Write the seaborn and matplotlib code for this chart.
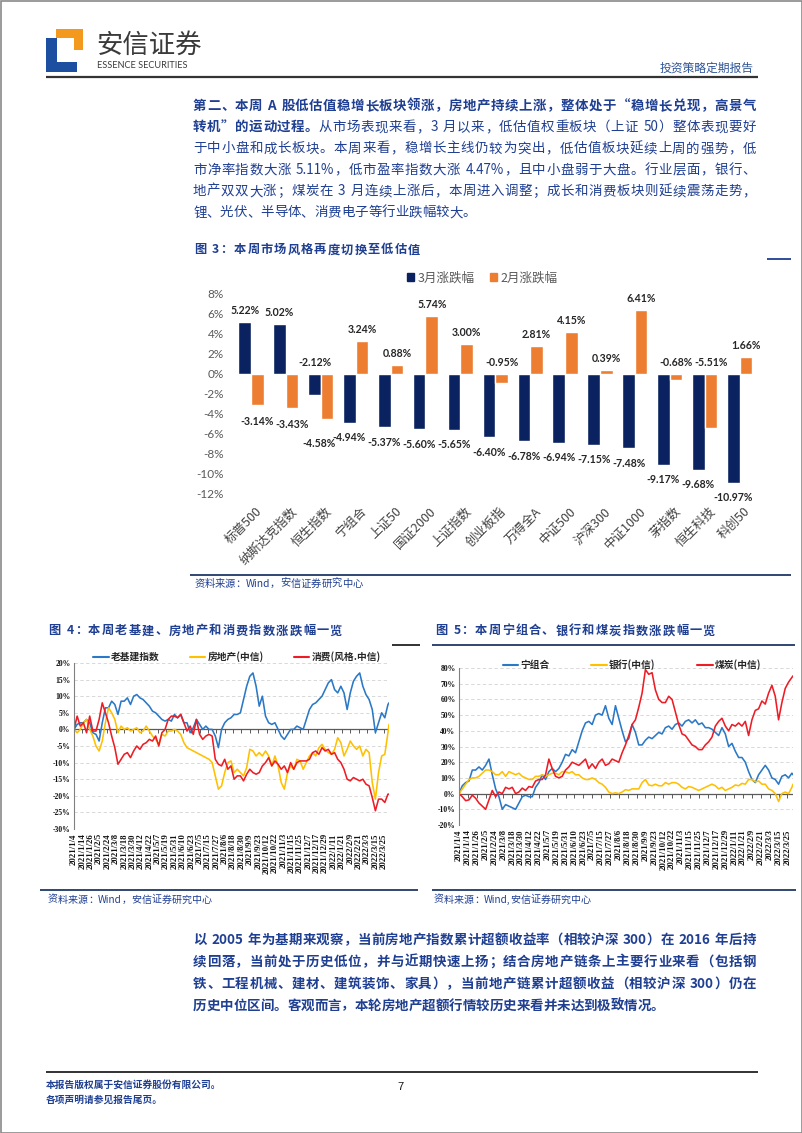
import numpy as np
import pandas as pd
import matplotlib
matplotlib.use('Agg')
import matplotlib.pyplot as plt
import seaborn as sns
from matplotlib.patches import Rectangle, Patch
from matplotlib.lines import Line2D
from matplotlib.font_manager import FontProperties, fontManager
from matplotlib.transforms import ScaledTranslation

# ---------------- data: figure 3 (bar chart) ----------------
bar_categories = ['标普500', '纳斯达克指数', '恒生指数', '宁组合', '上证50', '国证2000', '上证指数',
                  '创业板指', '万得全A', '中证500', '沪深300', '中证1000', '茅指数', '恒生科技', '科创50']
march_change = [5.22, 5.02, -2.12, -4.94, -5.37, -5.60, -5.65, -6.40, -6.78, -6.94, -7.15, -7.48, -9.17, -9.68, -10.97]
feb_change = [-3.14, -3.43, -4.58, 3.24, 0.88, 5.74, 3.00, -0.95, 2.81, 4.15, 0.39, 6.41, -0.68, -5.51, 1.66]
bar_series = ['3月涨跌幅', '2月涨跌幅']
bar_yticks = [8, 6, 4, 2, 0, -2, -4, -6, -8, -10, -12]
labels_above_axis = [('恒生指数', '3月涨跌幅'), ('创业板指', '2月涨跌幅'),
                     ('茅指数', '2月涨跌幅'), ('恒生科技', '2月涨跌幅')]

# ---------------- data: figures 4 & 5 (line charts) ----------------
date_ticks = ['2021/1/4', '2021/1/14', '2021/1/26', '2021/2/5', '2021/2/24', '2021/3/8', '2021/3/18',
              '2021/3/30', '2021/4/12', '2021/4/22', '2021/5/7', '2021/5/19', '2021/5/31', '2021/6/10',
              '2021/6/23', '2021/7/5', '2021/7/15', '2021/7/27', '2021/8/6', '2021/8/18', '2021/8/30',
              '2021/9/9', '2021/9/23', '2021/10/12', '2021/10/22', '2021/11/3', '2021/11/15', '2021/11/25',
              '2021/12/7', '2021/12/17', '2021/12/29', '2022/1/11', '2022/1/21', '2022/2/9', '2022/2/21',
              '2022/3/3', '2022/3/15', '2022/3/25']
tick_step_days = 8
sample_days = list(range(0, 301, 3)) + [301]   # trading-day index of each reading

infra = [0, 1.5, 2, 2, 3, 2, -1, -1.5, -3.5, 2,
         6.5, 6.5, 8.5, 7.5, 4.5, 8.5, 8.5, 9.5, 7.5, 10,
         10.5, 9.5, 9, 8, 7, 5.5, 5, 4, 3, 2.5,
         3, 2.5, 4.5, 3.5, 4.5, 2, 2, -1, 0.5, 3,
         1.5, 0, 1, 0, 0, -2, -5.5, 0, 2, 3,
         3.5, 4.5, 4.5, 5, 9, 13, 16, 17, 13, 7,
         10, 4, 2, 1.5, 2, 0, -2, -3, -1.5, 0,
         0, 1, 0.5, 0, 3, 6, 7.5, 8, 9, 10,
         12, 14, 15, 12, 11, 13, 11, 6, 11, 14.5,
         16, 17, 13, 10.5, 9, 6, -1, 2, 5, 3.5,
         7.5, 8]
realestate = [0, -1, 0, 2, 3, 0, -2, -5, -6.5, -3.5,
              2, 6.5, 5, 3, -1, 1, 0, 0.5, -0.5, 0,
              0.5, -1, -0.5, 1, -0.5, -2, -3, -4.5, -1.5, -2,
              -0.5, -0.5, 0, -0.5, -1.5, -4, -5.5, -6, -6.5, -7,
              -7.5, -8, -8.5, -9, -10, -14, -18, -17, -13, -10,
              -9.5, -13, -12, -13, -14, -11.5, -6, -6.5, -8, -7,
              -8, -6.5, -8, -11, -8, -11, -16, -18, -13, -11,
              -12, -9, -9.5, -12, -10, -8, -7, -8, -5.5, -4.5,
              -6, -7, -7.5, -6, -2.5, -4, -8, -6, -3.5, -5,
              -6, -5, -8, -6, -7, -16, -21, -13, -8, -7.5,
              -1, 1.5]
consumer = [0, 4, 1, 2, -1, 4, -0.5, -0.5, 3, 8,
            5, 2, -2, -5.5, -10.5, -9, -7.5, -7, -8.5, -6.5,
            -5, -6, -4.5, -4, -3, -3.5, -2, -5, -1, 0,
            3, 4, 4, 3.5, 4.5, 2, -0.5, 1, -1.5, 3,
            -1.5, -3, -2, -1.5, -2, -9, -10.5, -11, -9, -12,
            -11, -15, -14, -14, -15.5, -13.5, -12, -13, -13.5, -13,
            -11, -10, -8.5, -11, -9.5, -10.5, -12, -11, -13, -10,
            -12, -10, -9.5, -9.5, -9.5, -9, -7, -6.5, -7.5, -5.5,
            -6.5, -6, -7.5, -7, -9, -10, -12, -15, -15.5, -14.5,
            -15, -15.5, -15, -16.5, -17, -20.5, -24.5, -21, -21, -22,
            -19.5, -19.5]
ning = [0, 5, 7, 8, 15, 15, 17, 15, 18, 22,
        12, 3, -2, -10, -7, -8, -9, -10, -6, -2,
        -1, -2, -2, 4, 7, 12, 9, 14, 16, 14,
        16, 20, 25, 24, 28, 26, 33, 40, 45, 46,
        44, 50, 51, 50, 56, 48, 44, 56, 48, 40,
        33, 35, 44, 39, 31, 31, 34, 36, 35, 37,
        39, 38, 42, 43, 41, 44, 45, 43, 46, 47,
        45, 47, 44, 45, 42, 42, 41, 39, 37, 42,
        38, 30, 32, 27, 23, 23, 20, 14, 9, 7,
        12, 15, 18, 15, 10, 9, 6, 11, 12, 10,
        13, 12]
bank = [0, 3, 6, 9, 10, 10, 11, 13, 15, 15,
        14, 12, 12, 14, 11, 14, 13, 12, 13, 11,
        10, 9, 9, 11, 11, 12, 11, 12, 13, 13,
        12, 14, 14, 13, 14, 12, 12, 10, 9, 9,
        10, 9, 7, 6, 4, 1, 0, 0.5, 0, 1,
        2.5, 2, 3, 3, 3, 7, 9, 5.5, 5, 6,
        5, 5, 7, 6, 7, 7, 6, 4, 3, 4.5,
        4, 3, 2, 3, 4, 5, 6, 5, 3, 4,
        2, 3, 4, 5.5, 5, 6.5, 6, 9, 9, 7.5,
        8, 6, 6, 3, 2, 0, -5, 0, 1, 0,
        4, 6]
coal = [0, -2, -4.5, -4, -1, -3, -6, -8, -10, -4,
        2, -2, 1, 0, 4, 3, 4, 0, 1, 3.5,
        2, 4.5, 4, 8, 9, 9, 12, 22, 16, 11,
        10, 11, 15, 17, 20, 19, 18, 20, 22, 16,
        19, 16, 20, 22, 18, 19, 22, 21, 20, 26,
        31, 37, 44, 47, 55, 64, 79, 76, 77, 66,
        60, 58, 58, 62, 60, 52, 44, 38, 37, 34,
        31, 30, 28, 28, 31, 33, 36, 43, 46, 48,
        43, 40, 44, 43, 45, 43, 46, 37, 47, 53,
        54, 59, 57, 64, 69, 62, 47, 58, 67, 71,
        74, 75]

fig4_names = ['老基建指数', '房地产(中信)', '消费(风格.中信)']
fig5_names = ['宁组合', '银行(中信)', '煤炭(中信)']
fig4_yticks = [20, 15, 10, 5, 0, -5, -10, -15, -20, -25, -30]
fig5_yticks = [80, 70, 60, 50, 40, 30, 20, 10, 0, -10, -20]

# ---------------- text ----------------
para1 = [
    [("第二、本周 A 股低估值稳增长板块领涨，房地产持续上涨，整体处于“稳增长兑现，高景气", 'bold')],
    [("转机”的运动过程。", 'bold'), ("从市场表现来看，3 月以来，低估值权重板块（上证 50）整体表现要好", 'normal')],
    [("于中小盘和成长板块。本周来看，稳增长主线仍较为突出，低估值板块延续上周的强势，低", 'normal')],
    [("市净率指数大涨 5.11%，低市盈率指数大涨 4.47%，且中小盘弱于大盘。行业层面，银行、", 'normal')],
    [("地产双双大涨；煤炭在 3 月连续上涨后，本周进入调整；成长和消费板块则延续震荡走势，", 'normal')],
    [("锂、光伏、半导体、消费电子等行业跌幅较大。", 'normal')],
]
para2 = [
    [("以 2005 年为基期来观察，当前房地产指数累计超额收益率（相较沪深 300）在 2016 年后持", 'bold')],
    [("续回落，当前处于历史低位，并与近期快速上扬；结合房地产链条上主要行业来看（包括钢", 'bold')],
    [("铁、工程机械、建材、建筑装饰、家具），当前地产链累计超额收益（相较沪深 300）仍在", 'bold')],
    [("历史中位区间。客观而言，本轮房地产超额行情较历史来看并未达到极致情况。", 'bold')],
]
title3 = "图 3：本周市场风格再度切换至低估值"
title4 = "图 4：本周老基建、房地产和消费指数涨跌幅一览"
title5 = "图 5：本周宁组合、银行和煤炭指数涨跌幅一览"
source_text = "资料来源：Wind，安信证券研究中心"

# ---------------- style ----------------
sns.set_theme(style='white')
CJK = ['Noto Sans CJK SC', 'DejaVu Sans']
plt.rcParams['font.family'] = CJK
plt.rcParams['axes.unicode_minus'] = False
available = {f.name for f in fontManager.ttflist}
NARROW = ['Liberation Sans Narrow'] if 'Liberation Sans Narrow' in available else ['Lato']
SERIF = ['Liberation Serif', 'DejaVu Serif']

NAVY = '#0A2260'
ORANGE = '#ED7D31'
TXT = '#1F3F92'
L_BLUE = '#2A78C6'
L_YEL = '#FFC000'
L_RED = '#EE1C25'

# manual nudges (pixels) of individual bar labels, as in the reference layout
label_nudge = {('恒生指数', '2月涨跌幅'): (-8, -9),
               ('标普500', '2月涨跌幅'): (0, -2),
               ('纳斯达克指数', '2月涨跌幅'): (0, -2)}

W, H = 802, 1133
fig = plt.figure(figsize=(W / 100, H / 100), dpi=100)
fig.patch.set_facecolor('white')


def fx(x):
    return x / W


def fy(y):
    return 1 - y / H


def add_ax(l, t, r, b):
    ax = fig.add_axes([fx(l), fy(b), (r - l) / W, (b - t) / H])
    ax.set_facecolor('none')
    return ax


page = fig.add_axes([0, 0, 1, 1], zorder=0)
page.set_xlim(0, W)
page.set_ylim(H, 0)
page.axis('off')

renderer = fig.canvas.get_renderer()
LEFT_P = set('，。、；：）”')
RIGHT_P = set('（“')


def split_units(s):
    out, buf = [], ''
    for ch in s:
        if ch == ' ':
            if buf:
                out.append(('a', buf)); buf = ''
            out.append(('s', ' '))
        elif ord(ch) < 128:
            buf += ch
        else:
            if buf:
                out.append(('a', buf)); buf = ''
            out.append(('c', ch))
    if buf:
        out.append(('a', buf))
    return out


def draw_line(segments, x0, y, size, color, x1=None, style='normal'):
    em = size * 100 / 72
    items = []
    for text, weight in segments:
        for kind, u in split_units(text):
            if kind == 'c':
                w = em
            elif kind == 's':
                w = 0.3 * em
            else:
                fp = FontProperties(family=CJK, size=size, weight=weight)
                w = renderer.get_text_width_height_descent(u, fp, ismath=False)[0]
            items.append((kind, u, weight, w))
    total = sum(it[3] for it in items)
    gap = (x1 - x0 - total) / (len(items) - 1) if (x1 is not None and len(items) > 1) else 0
    x = x0
    base = y + 0.36 * em
    for kind, u, weight, w in items:
        if kind != 's':
            if kind == 'c':
                if u in LEFT_P:
                    tx, ha = x, 'left'
                elif u in RIGHT_P:
                    tx, ha = x + w, 'right'
                else:
                    tx, ha = x + w / 2, 'center'
            else:
                tx, ha = x, 'left'
            page.text(tx, base, u, ha=ha, va='baseline', fontsize=size, fontweight=weight,
                      color=color, family=CJK, fontstyle=style)
        x += w + gap


def hline(x0, x1, y, color, lw):
    page.plot([x0, x1], [y, y], color=color, lw=lw, solid_capstyle='butt')


# ---------------- page furniture ----------------
page.add_patch(Rectangle((0.5, 0.5), W - 1, H - 1, fill=False, ec='#8a8a8a', lw=1.2))
# logo
page.add_patch(Rectangle((56, 29), 27, 9, color='#F39A1E', lw=0))
page.add_patch(Rectangle((74, 29), 9, 21, color='#F39A1E', lw=0))
page.add_patch(Rectangle((46, 38), 11, 34, color='#1D4FA0', lw=0))
page.add_patch(Rectangle((46, 62), 31, 10, color='#1D4FA0', lw=0))
page.text(96, 45, '安信证券', fontsize=19, color='#3a3a3a', va='center', ha='left', family=CJK)
page.text(97, 66, 'ESSENCE SECURITIES', fontsize=6.6, color='#3a3a3a', va='center', ha='left',
          family=NARROW + ['DejaVu Sans'])
page.text(754, 68, '投资策略定期报告', fontsize=8.5, color='#2F5597', va='center', ha='right', family=CJK)
hline(46, 758, 77, '#333333', 1.6)

# paragraph 1
for i, segs in enumerate(para1):
    last = i == len(para1) - 1
    draw_line(segs, 193, 105 + 21.3 * i, 9.7, TXT, None if last else 756)

# figure 3 title
draw_line([(title3, 'bold')], 194, 249, 8.8, TXT, 420)
hline(767, 791, 259, TXT, 1.3)

# ---------------- figure 3: bar chart ----------------
bar_df = pd.DataFrame({
    '指数': bar_categories * 2,
    '系列': [bar_series[0]] * len(bar_categories) + [bar_series[1]] * len(bar_categories),
    '涨跌幅': march_change + feb_change,
})
axb = add_ax(233.5, 294, 757, 493)
sns.barplot(data=bar_df, x='指数', y='涨跌幅', hue='系列', order=bar_categories, hue_order=bar_series,
            palette=[NAVY, ORANGE], width=0.72, gap=0, saturation=1, errorbar=None, legend=False, ax=axb)
axb.set_ylim(-12, 8)
axb.set_xlim(-0.5, len(bar_categories) - 0.5)
axb.set_xlabel('')
axb.set_ylabel('')
for s in axb.spines.values():
    s.set_visible(False)
axb.set_yticks(bar_yticks)
axb.set_yticklabels([f'{t}%' for t in bar_yticks], fontsize=8.5, color='#595959', family=['Lato'])
axb.set_xticks(range(len(bar_categories)))
axb.set_xticklabels(bar_categories, rotation=45, ha='right', va='center', rotation_mode='anchor',
                    fontsize=9, color='#404040')
axb.tick_params(axis='both', length=0)
axb.tick_params(axis='y', pad=7)
axb.tick_params(axis='x', pad=12)
for lbl in axb.get_xticklabels():
    lbl.set_transform(lbl.get_transform() + ScaledTranslation(0.09, 0, fig.dpi_scale_trans))

for series, cont in zip(bar_series, axb.containers):
    vals = march_change if series == bar_series[0] else feb_change
    for cat, rect, v in zip(bar_categories, cont, vals):
        xc = rect.get_x() + rect.get_width() / 2
        if (cat, series) in labels_above_axis:
            y0, off = 0, 11
        elif v >= 0:
            y0, off = v, 11.5
        else:
            y0, off = v, -15
        dx, dy = label_nudge.get((cat, series), (0, 0))
        axb.annotate(f'{v:.2f}%', (xc, y0), xytext=(dx, off + dy), textcoords='offset pixels',
                     ha='center', va='center', fontsize=7.6, fontweight='bold', color='#262626',
                     family=NARROW)

fig.legend(handles=[Patch(color=NAVY), Patch(color=ORANGE)], labels=bar_series, loc='center',
           bbox_to_anchor=(fx(482), fy(278)), ncol=2, frameon=False, fontsize=9,
           handlelength=0.6, handleheight=0.6, handletextpad=0.25, columnspacing=1.2,
           labelcolor='#595959')

hline(190, 791, 575, '#1F3864', 1.3)
draw_line([(source_text, 'normal')], 194, 583, 7.4, TXT, style='italic')

# ---------------- figures 4 & 5: line charts ----------------
draw_line([(title4, 'bold')], 48, 630, 8.8, TXT, 342)
draw_line([(title5, 'bold')], 435, 630, 8.8, TXT, 715)
hline(392, 420, 645, '#222222', 1.3)
hline(432, 795, 645, '#1F3864', 1.3)


def line_chart(box, names, series, colors, yticks, legend_xy, colspace):
    ax = add_ax(*box)
    for vals, col in zip(series, colors):
        sns.lineplot(x=sample_days, y=vals, color=col, linewidth=1.15, ax=ax, legend=False)
    ax.set_xlim(0, 301)
    ax.set_ylim(min(yticks), max(yticks))
    ax.set_xlabel('')
    ax.set_ylabel('')
    ax.set_yticks(yticks)
    ax.set_yticklabels([f'{t}%' for t in yticks], fontsize=5.5, fontweight='bold',
                       family=SERIF, color='#111111')
    pos = [tick_step_days * i for i in range(len(date_ticks))]
    ax.set_xticks(pos)
    ax.set_xticklabels(date_ticks, rotation=90, fontsize=6.3, fontweight='bold',
                       family=SERIF, color='#111111')
    ax.tick_params(axis='both', length=0)
    ax.tick_params(axis='x', pad=3)
    ax.tick_params(axis='y', pad=2.5)
    ax.yaxis.grid(True, color='#D2D2D2', lw=0.6, ls=(0, (4, 3)))
    ax.xaxis.grid(False)
    ax.set_axisbelow(True)
    for k, s in ax.spines.items():
        s.set_visible(k == 'left')
    ax.spines['left'].set_color('#808080')
    ax.spines['left'].set_linewidth(0.8)
    ax.axhline(0, color='#5a5a5a', lw=0.9, zorder=1.6)
    ax.plot(pos, [0] * len(pos), ls='none', marker=3, ms=3, mew=0.7, color='#5a5a5a', zorder=1.6)
    handles = [Line2D([], [], color=c, lw=1.5) for c in colors]
    ax.legend(handles, names, ncol=3, loc='center', bbox_to_anchor=(fx(legend_xy[0]), fy(legend_xy[1])),
              bbox_transform=fig.transFigure, frameon=False,
              prop=FontProperties(family=CJK, size=7, weight='bold'),
              handlelength=1.6, handletextpad=0.2, columnspacing=colspace)
    return ax


line_chart((74, 663, 389, 829), fig4_names, [infra, realestate, consumer], [L_BLUE, L_YEL, L_RED],
           fig4_yticks, (237, 657), 3.1)
line_chart((459, 668, 793, 825), fig5_names, [ning, bank, coal], [L_BLUE, L_YEL, L_RED],
           fig5_yticks, (632, 665), 4.3)

hline(40, 418, 890, '#1F3864', 1.3)
hline(432, 796, 890, '#1F3864', 1.3)
draw_line([(source_text, 'normal')], 48, 899, 7.2, TXT, style='italic')
draw_line([(source_text.replace('，', ','), 'normal')], 434, 899, 7.2, TXT, style='italic')

# paragraph 2
for i, segs in enumerate(para2):
    last = i == len(para2) - 1
    draw_line(segs, 193, 939 + 21.9 * i, 9.7, TXT, None if last else 756)

# footer
hline(46, 758, 1072, '#222222', 1.3)
page.text(46, 1085, '本报告版权属于安信证券股份有限公司。', fontsize=7, fontweight='bold', color=TXT,
          va='center', ha='left', family=CJK)
page.text(46, 1100, '各项声明请参见报告尾页。', fontsize=7, fontweight='bold', color=TXT,
          va='center', ha='left', family=CJK)
page.text(400, 1087, '7', fontsize=8, color='#111111', va='center', ha='center', family=['Liberation Sans'])

fig.savefig('out.png', dpi=100)
